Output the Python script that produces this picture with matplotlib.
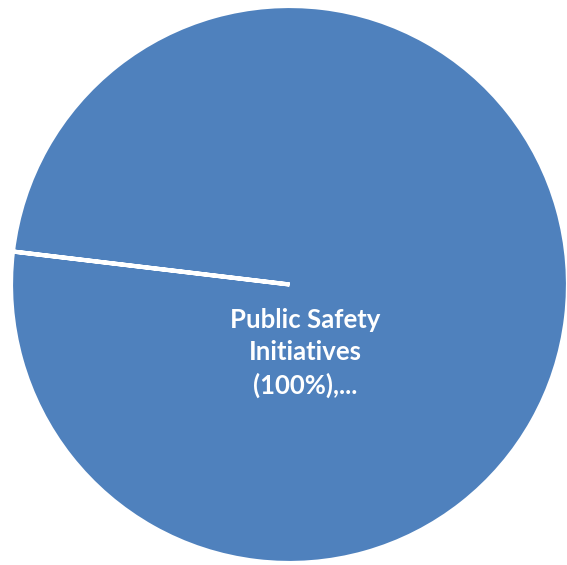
import matplotlib.pyplot as plt

# single category pie (100%)
categories = ['Public Safety\nInitiatives\n(100%),...']
values = [100]
colors = ['#4F81BD']

fig = plt.figure(figsize=(5.67, 5.65), dpi=100)
ax = fig.add_axes([11 / 567, 2 / 565, 557 / 567, 557 / 565])

ax.pie(values, colors=colors, startangle=173.2, counterclock=True,
       wedgeprops=dict(edgecolor='white', linewidth=3))
ax.set_xlim(-1, 1)
ax.set_ylim(-1, 1)
ax.axis('off')

ax.text(0.058, -0.245, categories[0], ha='center', va='center',
        color='white', fontsize=18.5, fontweight='bold', family='Lato',
        linespacing=1.4)

fig.savefig('out.png', dpi=100)
